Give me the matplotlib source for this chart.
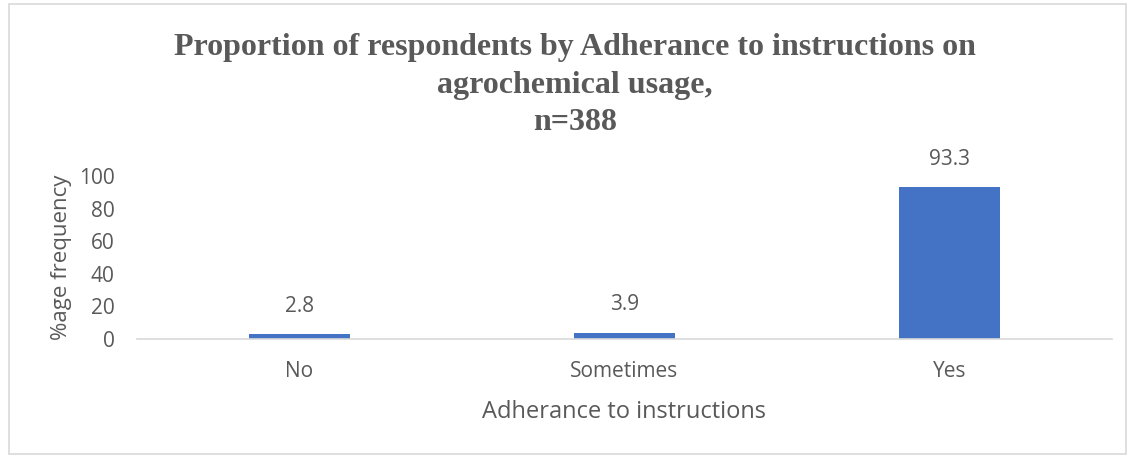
import matplotlib.pyplot as plt
from matplotlib.patches import Rectangle

categories = ["No", "Sometimes", "Yes"]
values = [2.8, 3.9, 93.3]
yticks = [0, 20, 40, 60, 80, 100]

W, H = 1132, 457
fig = plt.figure(figsize=(W / 100, H / 100), dpi=100)

# outer chart border
fig.patches.append(Rectangle((9 / W, 3 / H), 1117 / W, 450 / H, transform=fig.transFigure,
                             fill=False, edgecolor="#d9d9d9", linewidth=1.2))

ax = fig.add_axes([137 / W, (H - 339) / H, 975 / W, 163 / H])
ax.bar(range(len(categories)), values, width=0.31, color="#4472c4", zorder=2)
ax.set_xlim(-0.5, 2.5)
ax.set_ylim(0, 100)
ax.set_yticks(yticks)
ax.set_xticks(range(len(categories)))
ax.set_xticklabels(categories)

for s in ["top", "right", "left"]:
    ax.spines[s].set_visible(False)
ax.spines["bottom"].set_color("#d9d9d9")
ax.spines["bottom"].set_linewidth(1.2)
ax.tick_params(axis="both", length=0, labelsize=15, labelcolor="#595959")
ax.tick_params(axis="x", pad=16)
ax.tick_params(axis="y", pad=16)
for lab in ax.get_xticklabels() + ax.get_yticklabels():
    lab.set_family("Open Sans")

for i, v in enumerate(values):
    ax.annotate(f"{v}", (i, v), xytext=(0, 20), textcoords="offset points",
                ha="center", va="center", fontsize=15, color="#595959", family="Open Sans")

ax.set_xlabel("Adherance to instructions", fontsize=17, color="#595959",
              family="Open Sans", labelpad=13)
ax.set_ylabel("%age frequency", fontsize=16, color="#595959", family="Open Sans", labelpad=5)

fig.text(575 / W, 1 - 85 / H,
         "Proportion of respondents by Adherance to instructions on\nagrochemical usage,\nn=388",
         ha="center", va="center", fontsize=23, fontweight="bold", color="#595959",
         family="Liberation Serif", linespacing=1.4)

fig.savefig("out.png", dpi=100, facecolor="white")
